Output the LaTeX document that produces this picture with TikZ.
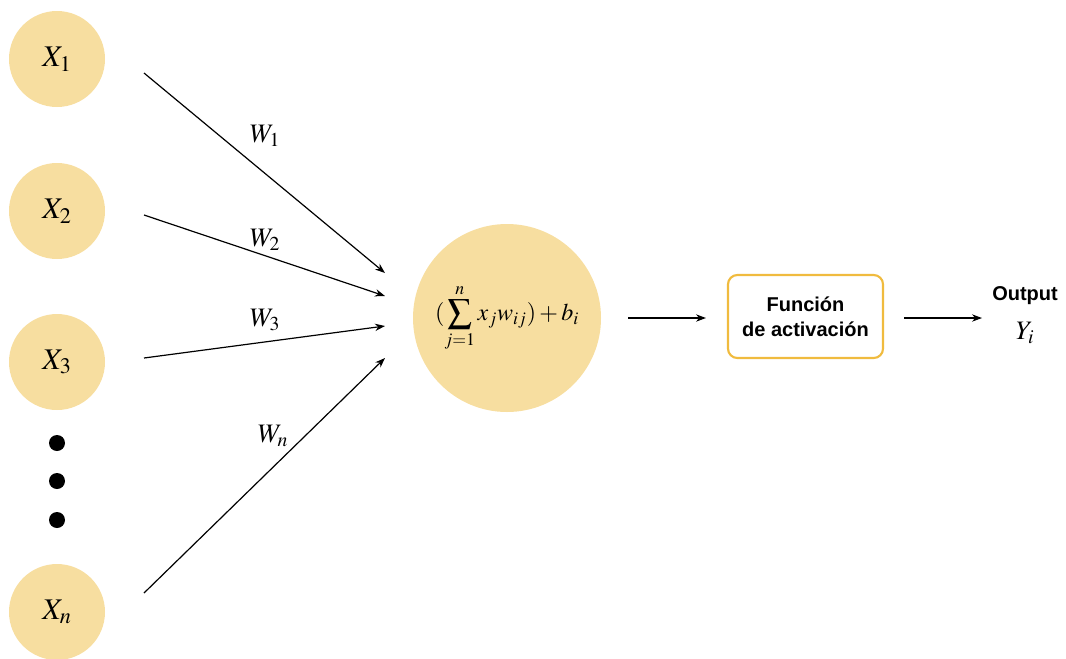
\documentclass[tikz,border=0pt]{standalone}
\usepackage{mathptmx}
\usepackage{fontspec}
\setmainfont{Liberation Sans}
\usetikzlibrary{arrows.meta}
\definecolor{circfill}{RGB}{247,222,160}
\definecolor{boxedge}{RGB}{240,187,62}
\tikzset{
  inp/.style={circle, fill=circfill, minimum size=96*0.75pt, inner sep=0pt, font=\fontsize{22.5}{26}\selectfont},
  conn/.style={line width=0.9pt, -{Stealth[length=7.5pt,width=5.5pt]}},
  wlab/.style={font=\fontsize{20}{23}\selectfont},
  dotn/.style={circle, fill=black, minimum size=12pt, inner sep=0pt},
}
\begin{document}
\begin{tikzpicture}[x=0.75pt,y=-0.75pt]
\useasboundingbox (0,0) rectangle (1066,658);
\node[inp] (x1) at (57,59) {$X_1$};
\node[inp] (x2) at (57,211) {$X_2$};
\node[inp] (x3) at (57,362) {$X_3$};
\node[inp] (xn) at (57,612) {$X_n$};
\node[dotn] (d1) at (57,443) {};
\node[dotn] (d2) at (57,481) {};
\node[dotn] (d3) at (57,520) {};
\node[circle, fill=circfill, minimum size=188*0.75pt, inner sep=0pt, font=\fontsize{18}{21}\selectfont] (sum) at (507,318)
  {$\displaystyle (\sum_{j=1}^{n} x_j w_{ij}) + b_i$};
\node[draw=boxedge, line width=1.6pt, rounded corners=7pt, minimum width=155*0.75pt, minimum height=83*0.75pt, align=center,
  font=\fontsize{15}{19}\selectfont\bfseries] (act) at (805.5,316.5) {Función\\de activación};
\node[font=\fontsize{15}{18}\selectfont\bfseries] (out) at (1025,296) {Output};
\node[font=\fontsize{20}{23}\selectfont] (yi) at (1025,333) {$Y_i$};
\coordinate (s1) at (144,73);  \coordinate (e1) at (385,273);
\coordinate (s2) at (144,215); \coordinate (e2) at (385,296);
\coordinate (s3) at (144,358); \coordinate (e3) at (385,326);
\coordinate (sn) at (144,593); \coordinate (en) at (385,358);
\draw[conn] (s1) -- (e1);
\draw[conn] (s2) -- (e2);
\draw[conn] (s3) -- (e3);
\draw[conn] (sn) -- (en);
\coordinate (sa) at (628,318); \coordinate (ea) at (706,318);
\coordinate (sb) at (904,318); \coordinate (eb) at (982,318);
\draw[conn] (sa) -- (ea);
\draw[conn] (sb) -- (eb);
\node[wlab] (w1) at (265,136) {$W_1$};
\node[wlab] (w2) at (265,240) {$W_2$};
\node[wlab] (w3) at (265,320) {$W_3$};
\node[wlab] (wn) at (273,436) {$W_n$};
\end{tikzpicture}
\end{document}
